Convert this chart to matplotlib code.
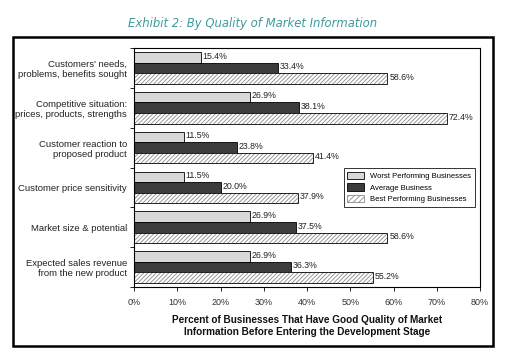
import matplotlib
matplotlib.use("Agg")
import matplotlib.pyplot as plt
import numpy as np
from matplotlib.patches import Rectangle

plt.rcParams['font.family'] = ['Liberation Sans', 'DejaVu Sans']
plt.rcParams['hatch.linewidth'] = 0.6

categories = ["Customers' needs,\nproblems, benefits sought",
              "Competitive situation:\nprices, products, strengths",
              "Customer reaction to\nproposed product",
              "Customer price sensitivity",
              "Market size & potential",
              "Expected sales revenue\nfrom the new product"]
worst = [15.4, 26.9, 11.5, 11.5, 26.9, 26.9]
average = [33.4, 38.1, 23.8, 20.0, 37.5, 36.3]
best = [58.6, 72.4, 41.4, 37.9, 58.6, 55.2]
series_names = ["Worst Performing Businesses", "Average Business", "Best Performing Businesses"]
xticks = [0, 10, 20, 30, 40, 50, 60, 70, 80]

fig = plt.figure(figsize=(5.11, 3.59), dpi=100)

# outer frame round the whole chart
fig.patches.append(Rectangle((13 / 511, 1 - 346 / 359), 480 / 511, 309 / 359,
                             transform=fig.transFigure, fill=False,
                             edgecolor='black', linewidth=1.8))

fig.text(253 / 511, 1 - 23 / 359, "Exhibit 2: By Quality of Market Information",
         ha='center', va='center', color='#3f9a9c', fontsize=8.4,
         style='italic', family=['DejaVu Sans'])

ax = fig.add_axes([134 / 511, 1 - 287 / 359, 346 / 511, 239 / 359])

y = np.arange(len(categories))
h = 0.265

ax.barh(y - h, worst, height=h, color='#d8d8d8', edgecolor='black', linewidth=0.6,
        label=series_names[0])
ax.barh(y, average, height=h, color='#3c3c3c', edgecolor='black', linewidth=0.6,
        label=series_names[1])
ax.barh(y + h, best, height=h, color='white', edgecolor='#8a8a8a', linewidth=0,
        hatch='////////')
ax.barh(y + h, best, height=h, fill=False, edgecolor='black', linewidth=0.6)
# legend proxy for the hatched series
best_proxy = Rectangle((0, 0), 1, 1, facecolor='white', edgecolor='#8a8a8a',
                       hatch='//////', linewidth=0.6)

for offs, vals in [(-h, worst), (0, average), (h, best)]:
    for yi, v in zip(y, vals):
        ax.text(v + 0.4, yi + offs - 0.03, "%.1f%%" % v, va='center', ha='left',
                fontsize=6.3, color='#222222')

ax.set_xlim(0, 80)
ax.set_ylim(len(categories) - 0.5, -0.5)
ax.set_xticks(xticks)
ax.set_xticklabels(["%d%%" % t for t in xticks], fontsize=6.5, color='#333333')
ax.set_yticks(y)
ax.set_yticklabels(categories, fontsize=6.8, color='#222222')
ax.tick_params(axis='y', which='major', length=0, pad=5)
ax.set_yticks(np.arange(-0.5, len(categories), 1), minor=True)
ax.tick_params(axis='y', which='minor', length=3, width=0.6)
ax.tick_params(axis='x', length=3, width=0.6, pad=5)
for s in ax.spines.values():
    s.set_linewidth(0.8)

ax.set_xlabel("Percent of Businesses That Have Good Quality of Market\n"
              "Information Before Entering the Development Stage",
              fontsize=7.2, fontweight='bold', labelpad=6, color='#111111',
              linespacing=1.25)

handles, labels = ax.get_legend_handles_labels()
handles.append(best_proxy)
labels.append(series_names[2])
leg = ax.legend(handles, labels, loc='upper right', bbox_to_anchor=(0.997, 0.515),
                fontsize=5.5, frameon=True, fancybox=False, borderpad=0.5,
                handlelength=2.2, handleheight=1.1, labelspacing=0.45)
leg.get_frame().set_edgecolor('black')
leg.get_frame().set_linewidth(0.7)

fig.savefig("out.png", dpi=100)
